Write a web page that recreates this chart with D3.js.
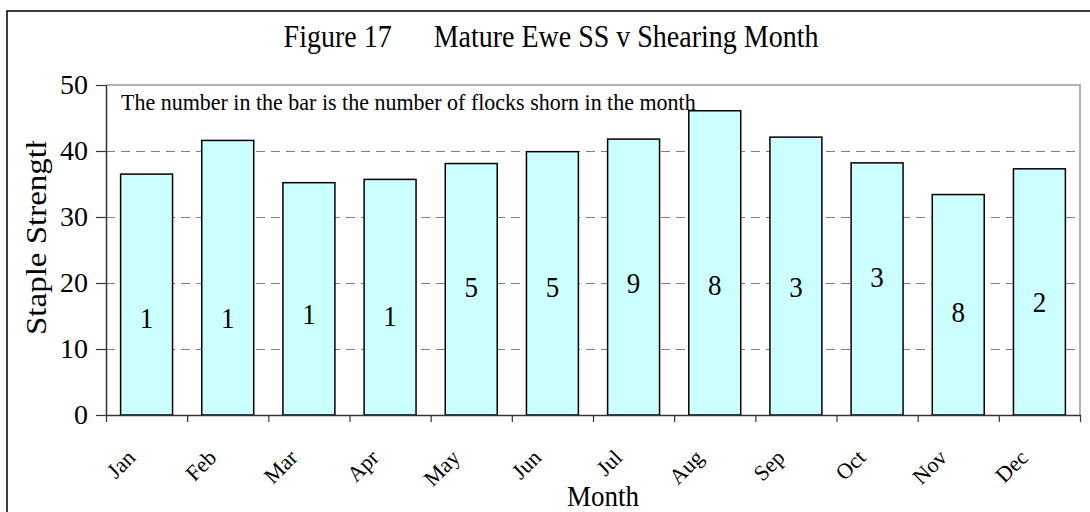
<!DOCTYPE html>
<html>
<head>
<meta charset="utf-8">
<script src="https://cdn.jsdelivr.net/npm/d3@7"></script>
<style>
  body { margin: 0; background: #fff; }
  text { font-family: "Liberation Serif", "Times New Roman", serif; fill: #000; }
</style>
</head>
<body>
<script>
// chart data
var months = ["Jan", "Feb", "Mar", "Apr", "May", "Jun", "Jul", "Aug", "Sep", "Oct", "Nov", "Dec"];
var strength = [36.5, 41.6, 35.2, 35.7, 38.1, 39.9, 41.8, 46.1, 42.1, 38.2, 33.4, 37.3];
var flocks = [1, 1, 1, 1, 5, 5, 9, 8, 3, 3, 8, 2];
var labelAt = [14.8, 14.7, 15.3, 15.1, 19.4, 19.4, 20.0, 19.8, 19.4, 21.0, 15.6, 17.2];   // where the count sits, in y units
var yTicks = [0, 10, 20, 30, 40, 50];
var gridTicks = [10, 20, 30, 40];

var width = 1090, height = 512;
var plot = {left: 106, right: 1080, top: 85, bottom: 415};

var svg = d3.select("body").append("svg")
    .attr("width", width)
    .attr("height", height);

// outer chart border (runs off the right and bottom of the picture)
svg.append("rect")
    .attr("x", 7).attr("y", 11)
    .attr("width", width).attr("height", height)
    .attr("fill", "none")
    .attr("stroke", "#000")
    .attr("stroke-width", 1.5);

var x = d3.scaleBand()
    .domain(months)
    .range([plot.left, plot.right])
    .paddingInner(0.36)
    .paddingOuter(0.18);

var xEdge = d3.scaleLinear().domain([0, 12]).range([plot.left, plot.right]);

var y = d3.scaleLinear().domain([0, 50]).range([plot.bottom, plot.top]);

// dashed gridlines
svg.append("g").selectAll("line")
    .data(gridTicks)
    .join("line")
    .attr("x1", plot.left).attr("x2", plot.right)
    .attr("y1", d => y(d)).attr("y2", d => y(d))
    .attr("stroke", "#808080")
    .attr("stroke-width", 1)
    .attr("shape-rendering", "crispEdges")
    .attr("stroke-dasharray", "9,6");

// plot area frame: grey top and right edges
svg.append("path")
    .attr("d", "M" + plot.left + "," + plot.top + "H" + plot.right + "V" + plot.bottom)
    .attr("fill", "none")
    .attr("stroke", "#999")
    .attr("stroke-width", 1.5);

// bars
svg.append("g").selectAll("rect")
    .data(months)
    .join("rect")
    .attr("x", d => x(d))
    .attr("y", (d, i) => y(strength[i]))
    .attr("width", x.bandwidth())
    .attr("height", (d, i) => y(0) - y(strength[i]))
    .attr("fill", "#ccffff")
    .attr("stroke", "#000")
    .attr("stroke-width", 1.5);

// counts inside the bars
svg.append("g").selectAll("text")
    .data(months)
    .join("text")
    .attr("transform", (d, i) => "translate(" + (x(d) + x.bandwidth() / 2) + "," + y(labelAt[i]) + ") scale(1,1.08)")
    .attr("dy", "0.35em")
    .attr("text-anchor", "middle")
    .style("font-size", "27px")
    .text((d, i) => flocks[i]);

// y axis
var yAxis = svg.append("g")
    .attr("transform", "translate(" + plot.left + ",0)")
    .call(d3.axisLeft(y).tickValues(yTicks).tickSize(10).tickPadding(8).tickSizeOuter(0));
yAxis.select(".domain").attr("stroke", "#333").attr("stroke-width", 1.5);
yAxis.selectAll(".tick line").attr("stroke", "#333").attr("stroke-width", 1.2);
yAxis.selectAll(".tick text")
    .style("font-size", "28px")
    .style("font-family", "Liberation Serif")
    .attr("fill", "#000");

// x axis: ticks on the category edges
var xAxis = svg.append("g")
    .attr("transform", "translate(0," + plot.bottom + ")")
    .call(d3.axisBottom(xEdge).tickValues(d3.range(13)).tickSize(7).tickFormat("").tickSizeOuter(0));
xAxis.select(".domain").attr("stroke", "#333").attr("stroke-width", 1.5);
xAxis.selectAll(".tick line").attr("stroke", "#333").attr("stroke-width", 1.2);

// slanted month names
svg.append("g").selectAll("text")
    .data(months)
    .join("text")
    .attr("transform", d => "translate(" + (x(d) + x.bandwidth() / 2 - 10) + "," + 459 + ") rotate(-45)")
    .attr("text-anchor", "end")
    .style("font-size", "22px")
    .text(d => d);

// title
svg.append("text")
    .attr("transform", "translate(551,47) scale(1,1.1)")
    .attr("text-anchor", "middle")
    .style("font-size", "28px")
    .style("white-space", "pre")
    .attr("xml:space", "preserve")
    .text("Figure 17      Mature Ewe SS v Shearing Month");

// note in the plot
svg.append("text")
    .attr("transform", "translate(121,110) scale(1,1.05)")
    .style("font-size", "22px")
    .text("The number in the bar is the number of flocks shorn in the month");

// axis titles
svg.append("text")
    .attr("transform", "translate(603,506) scale(1,1.12)")
    .attr("text-anchor", "middle")
    .style("font-size", "27px")
    .text("Month");

// the y title is too long for its box and gets cut at the top
svg.append("clipPath").attr("id", "ytitle-clip")
    .append("rect")
    .attr("x", 0).attr("y", 141)
    .attr("width", 100).attr("height", 300);

svg.append("g")
    .attr("clip-path", "url(#ytitle-clip)")
  .append("text")
    .attr("transform", "translate(46,335) rotate(-90) scale(1.1,1)")
    .style("font-size", "30px")
    .text("Staple Strength");
</script>
</body>
</html>
